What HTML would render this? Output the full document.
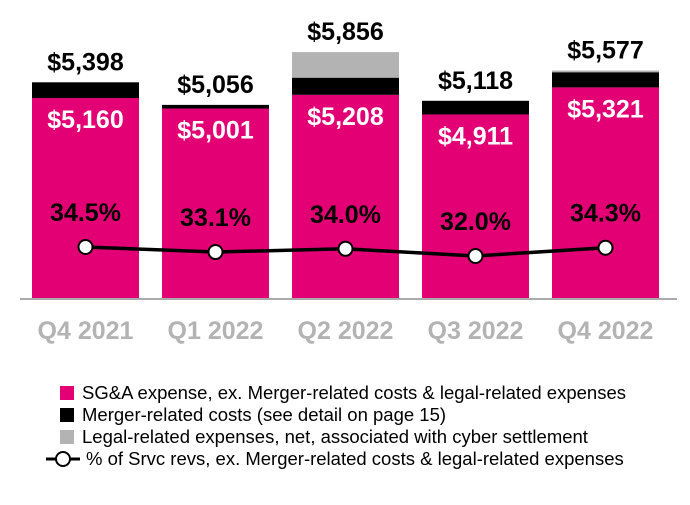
<!DOCTYPE html>
<html><head><meta charset="utf-8"><style>
body{margin:0;background:#fff;font-family:"Liberation Sans",Arial,sans-serif}
svg text{font-family:"Liberation Sans",Arial,sans-serif}
</style></head><body>
<svg id="c" width="690" height="500"></svg>
<script>
const categories=["Q4 2021","Q1 2022","Q2 2022","Q3 2022","Q4 2022"];
const sgaValues=[5160,5001,5208,4911,5321];
const mergerValues=[238,55,260,207,230];
const legalValues=[0,0,388,0,26];
const totalValues=[5398,5056,5856,5118,5577];
const pctValues=[34.5,33.1,34.0,32.0,34.3];
const NS="http://www.w3.org/2000/svg";
const svg=document.getElementById('c');
const base=298, vmin=2130, k=0.066;
const y=v=>base-(v-vmin)*k;
const xL=i=>32+i*130, bw=107;
const py=p=>247-(p-34.5)*3.6;
function el(t,a,txt){const e=document.createElementNS(NS,t);for(const n in a)e.setAttribute(n,a[n]);if(txt!=null)e.textContent=txt;svg.appendChild(e);return e;}
function fmt(v){return "$"+v.toLocaleString("en-US");}
categories.forEach((c,i)=>{
  const x=xL(i);
  const s=sgaValues[i], m=mergerValues[i], l=legalValues[i];
  let r=el('rect',{x:x,y:y(s),width:bw,height:base-y(s),fill:'#e20074'});
  
  r=el('rect',{x:x,y:y(s+m),width:bw,height:y(s)-y(s+m),fill:'#000'});
  
  if(l>0){r=el('rect',{x:x,y:y(s+m+l),width:bw,height:y(s+m)-y(s+m+l),fill:'#b3b3b3'});
  }
  const cx=x+bw/2;
  let t=el('text',{x:cx,y:y(totalValues[i])-12,'text-anchor':'middle','font-size':25,'font-weight':'bold',fill:'#000'},fmt(totalValues[i]));
  
  t=el('text',{x:cx,y:y(s)+30,'text-anchor':'middle','font-size':25,'font-weight':'bold',fill:'#fff'},fmt(s));
  
  t=el('text',{x:cx,y:py(pctValues[i])-26,'text-anchor':'middle','font-size':25,'font-weight':'bold',fill:'#000'},pctValues[i].toFixed(1)+"%");
  
  t=el('text',{x:cx,y:339,'text-anchor':'middle','font-size':25,'font-weight':'bold',fill:'#b3b3b3'},c);
  
});
let ax=el('line',{x1:20,x2:677,y1:base+1,y2:base+1,stroke:'#aaa','stroke-width':2});

let pl=el('polyline',{points:pctValues.map((p,i)=>(xL(i)+bw/2)+","+py(p)).join(" "),fill:'none',stroke:'#000','stroke-width':3.5});

pctValues.forEach((p,i)=>{const c=el('circle',{cx:xL(i)+bw/2,cy:py(p),r:7,fill:'#fff',stroke:'#000','stroke-width':2});
});
const legend=[["#e20074","SG&A expense, ex. Merger-related costs & legal-related expenses"],["#000","Merger-related costs (see detail on page 15)"],["#b3b3b3","Legal-related expenses, net, associated with cyber settlement"]];
legend.forEach((d,i)=>{const yy=393+i*22;
 let r=el('rect',{x:60,y:yy-7,width:14,height:14,fill:d[0]});
 let t=el('text',{x:82,y:yy+6,'font-size':18.5,fill:'#000'},d[1]);});
let ll=el('line',{x1:46,x2:80,y1:459,y2:459,stroke:'#000','stroke-width':3});
let lc=el('circle',{cx:63,cy:459,r:7,fill:'#fff',stroke:'#000','stroke-width':2});
let lt=el('text',{x:86,y:465,'font-size':18.5,fill:'#000'},"% of Srvc revs, ex. Merger-related costs & legal-related expenses");

</script>
</body></html>
